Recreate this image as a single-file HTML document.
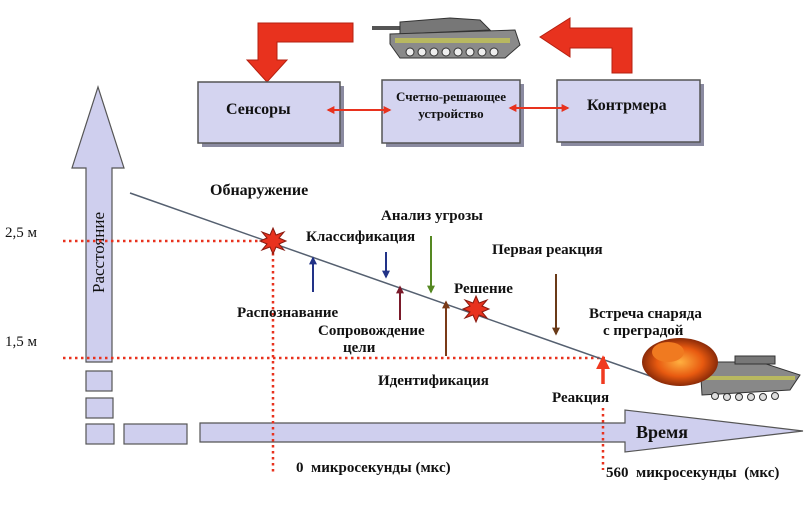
<!DOCTYPE html>
<html><head><meta charset="utf-8"><style>
body{margin:0;background:#fff}
svg text{font-family:"Liberation Serif","Noto Serif CJK SC",serif;font-weight:bold;fill:#111;white-space:pre}
</style></head><body>
<svg width="809" height="501" viewBox="0 0 809 501" xmlns="http://www.w3.org/2000/svg">
<defs>
<marker id="m" viewBox="0 0 10 10" refX="8" refY="5" markerWidth="4" markerHeight="4" orient="auto-start-reverse"><path d="M0,0L10,5L0,10z" fill="context-stroke"/></marker>
<radialGradient id="fire" cx="50%" cy="50%" r="50%"><stop offset="0" stop-color="#ffb040"/><stop offset="0.6" stop-color="#e85a10"/><stop offset="1" stop-color="#8a2a08"/></radialGradient>
</defs>
<path d="M353,23 L258,23 L258,60 L247,60 L267,82 L287,60 L277,60 L277,42 L353,42 Z" fill="#e8321e" stroke="#b52010"/>
<path d="M632,73 L632,28 L570,28 L570,18 L540,37 L570,57 L570,48 L612,48 L612,73 Z" fill="#e8321e" stroke="#b52010"/>
<g>
<rect x="372" y="26" width="40" height="4" fill="#555"/>
<path d="M400,22 L450,18 L480,20 L490,30 L400,34 Z" fill="#777" stroke="#333"/>
<path d="M390,34 L515,30 L520,45 L505,58 L400,58 L390,44 Z" fill="#8a8a8a" stroke="#333"/>
<rect x="395" y="38" width="115" height="5" fill="#b8b860"/>
<g fill="#eee" stroke="#333"><circle cx="410" cy="52" r="4"/><circle cx="422" cy="52" r="4"/><circle cx="434" cy="52" r="4"/><circle cx="446" cy="52" r="4"/><circle cx="458" cy="52" r="4"/><circle cx="470" cy="52" r="4"/><circle cx="482" cy="52" r="4"/><circle cx="494" cy="52" r="4"/></g>
</g>
<g fill="#8a8aa0"><rect x="202" y="86" width="142" height="61"/><rect x="386" y="84" width="138" height="63"/><rect x="561" y="84" width="143" height="62"/></g>
<g fill="#d4d4f0" stroke="#555" stroke-width="1.5"><rect x="198" y="82" width="142" height="61"/><rect x="382" y="80" width="138" height="63"/><rect x="557" y="80" width="143" height="62"/></g>
<text x="226" y="114" font-size="16">Сенсоры</text>
<text x="451" y="101" font-size="13" text-anchor="middle">Счетно-решающее</text>
<text x="451" y="118" font-size="13" text-anchor="middle">устройство</text>
<text x="587" y="110" font-size="16">Контрмера</text>
<g stroke="#e8321e" stroke-width="2" fill="none"><line x1="328" y1="110" x2="390" y2="110" marker-start="url(#m)" marker-end="url(#m)"/><line x1="510" y1="108" x2="568" y2="108" marker-start="url(#m)" marker-end="url(#m)"/></g>
<path d="M86,362 L86,168 L72,168 L98,87 L124,168 L112,168 L112,362 Z" fill="#cfcfee" stroke="#555" stroke-width="1.2"/>
<text transform="translate(104,293) rotate(-90)" font-size="17" style="font-weight:normal">Расстояние</text>
<g fill="#cfcfee" stroke="#555" stroke-width="1.2">
<rect x="86" y="371" width="26" height="20"/><rect x="86" y="398" width="27" height="20"/><rect x="86" y="424" width="28" height="20"/><rect x="124" y="424" width="63" height="20"/>
<path d="M200,423 L625,423 L625,410 L803,431 L625,452 L625,442 L200,442 Z"/>
</g>
<text x="636" y="438" font-size="18">Время</text>
<g stroke="#e8321e" stroke-width="2.5" stroke-dasharray="2.5 3.5" fill="none">
<line x1="63" y1="241" x2="270" y2="241"/><line x1="273" y1="241" x2="273" y2="475"/>
<line x1="63" y1="358" x2="605" y2="358"/><line x1="603" y1="408" x2="603" y2="470"/>
</g>
<line x1="130" y1="193" x2="650" y2="376" stroke="#556070" stroke-width="1.5"/>
<g fill="#e8321e" stroke="#8a1a10"><polygon points="273,228 276,235 284,232 279,238 286,241 279,244 284,250 276,247 273,254 270,247 262,250 267,244 260,241 267,238 262,232 270,235"/>
<polygon points="476,296 479,303 487,300 482,306 489,309 482,312 487,318 479,315 476,322 473,315 465,318 470,312 463,309 470,306 465,300 473,303"/></g>
<g stroke-width="2" fill="none">
<line x1="313" y1="292" x2="313" y2="258" stroke="#223388" marker-end="url(#m)"/>
<line x1="386" y1="252" x2="386" y2="277" stroke="#223388" marker-end="url(#m)"/>
<line x1="400" y1="320" x2="400" y2="287" stroke="#7a1a2a" marker-end="url(#m)"/>
<line x1="431" y1="236" x2="431" y2="292" stroke="#558822" marker-end="url(#m)"/>
<line x1="446" y1="356" x2="446" y2="302" stroke="#7a3a18" marker-end="url(#m)"/>
<line x1="556" y1="274" x2="556" y2="334" stroke="#6a3a18" marker-end="url(#m)"/>
<line x1="603" y1="384" x2="603" y2="358" stroke="#f03a20" stroke-width="3.5" marker-end="url(#m)"/>
</g>
<g>
<path d="M702,395 L790,390 L800,375 L760,362 L700,362 Z" fill="#888" stroke="#333"/>
<rect x="735" y="356" width="40" height="8" fill="#777" stroke="#333"/>
<rect x="705" y="376" width="90" height="4" fill="#b8b860"/>
<g fill="#ddd" stroke="#333"><circle cx="715" cy="396" r="3.5"/><circle cx="727" cy="397" r="3.5"/><circle cx="739" cy="397" r="3.5"/><circle cx="751" cy="397" r="3.5"/><circle cx="763" cy="397" r="3.5"/><circle cx="775" cy="396" r="3.5"/></g>
<ellipse cx="680" cy="362" rx="38" ry="24" fill="url(#fire)"/>
<ellipse cx="668" cy="352" rx="16" ry="10" fill="#f07a20"/>
</g>
<g font-size="15">
<text x="5" y="237" style="font-weight:normal" font-size="15">2,5 м</text>
<text x="5" y="346" style="font-weight:normal" font-size="15">1,5 м</text>
<text x="210" y="195" font-size="16">Обнаружение</text>
<text x="306" y="241">Классификация</text>
<text x="381" y="220">Анализ угрозы</text>
<text x="492" y="254">Первая реакция</text>
<text x="454" y="293">Решение</text>
<text x="237" y="317">Распознавание</text>
<text x="318" y="335">Сопровождение</text>
<text x="343" y="352">цели</text>
<text x="378" y="385">Идентификация</text>
<text x="589" y="318">Встреча снаряда</text>
<text x="603" y="335">с преградой</text>
<text x="552" y="402">Реакция</text>
<text x="296" y="472">0  микросекунды (мкс)</text>
<text x="606" y="477">560  микросекунды  (мкс)</text>
</g>
</svg>
</body></html>
